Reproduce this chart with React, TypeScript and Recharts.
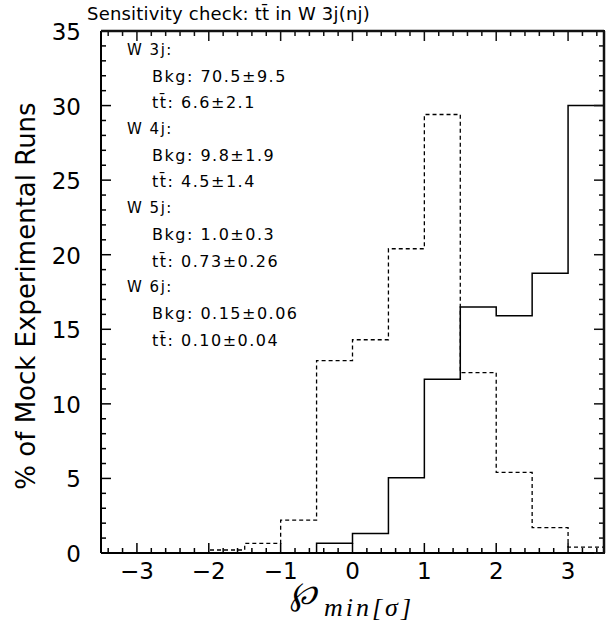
import React from 'react';
import { LineChart, Line, XAxis, YAxis, ReferenceLine } from 'recharts';

// bin edges of the histogram (width 0.5)
const binEdges = [-3.5, -3, -2.5, -2, -1.5, -1, -0.5, 0, 0.5, 1, 1.5, 2, 2.5, 3, 3.5];
// % of runs per bin
const ttbarRuns = [0, 0, 0, 0.2, 0.65, 2.2, 12.9, 14.3, 20.4, 29.4, 12.1, 5.4, 1.7, 0.4];
const bkgRuns = [0, 0, 0, 0, 0, 0, 0.65, 1.3, 5.05, 11.65, 16.5, 15.9, 18.75, 30.0];

const xMajor = [-3, -2, -1, 0, 1, 2, 3];
const yMajor = [0, 5, 10, 15, 20, 25, 30, 35];
const xTicks = Array.from({ length: 35 }, (_, i) => Math.round((-3.4 + i * 0.2) * 10) / 10);
const yTicks = Array.from({ length: 36 }, (_, i) => i);

const jetLabels = ['W 3j:', 'W 4j:', 'W 5j:', 'W 6j:'];
const bkgYields = ['70.5±9.5', '9.8±1.9', '1.0±0.3', '0.15±0.06'];
const ttYields = ['6.6±2.1', '4.5±1.4', '0.73±0.26', '0.10±0.04'];

const data = binEdges.map((x, i) => ({
  x,
  tt: ttbarRuns[Math.min(i, ttbarRuns.length - 1)],
  bkg: bkgRuns[Math.min(i, bkgRuns.length - 1)],
}));

const FONT = '"DejaVu Sans", sans-serif';
const INK = '#111';
const fmt = (v: number) => (v < 0 ? `\u2212${-v}` : `${v}`);

// plot frame edges (follow from the chart margins below)
const PLOT_TOP = 31;
const PLOT_RIGHT = 604;
const PLOT_LEFT = 101;
const PLOT_BOTTOM = 553;

// bottom ticks also mirror onto the top edge
const BottomTick = (props: any) => {
  const { x, y, payload } = props;
  const len = xMajor.includes(payload.value) ? 10 : 5;
  return (
    <g>
      <line x1={x} x2={x} y1={y} y2={y - len} stroke="#000" strokeWidth={1.5} />
      <line x1={x} x2={x} y1={PLOT_TOP + 1} y2={PLOT_TOP + len} stroke={INK} strokeWidth={1.5} />
      {len === 10 && (
        <text x={x} y={y + 26} textAnchor="middle" fontSize={23} fontFamily={FONT} fill="#000">
          {fmt(payload.value)}
        </text>
      )}
    </g>
  );
};

// left ticks also mirror onto the right edge
const LeftTick = (props: any) => {
  const { x, y, payload } = props;
  const len = yMajor.includes(payload.value) ? 10 : 5;
  return (
    <g>
      <line x1={x} x2={x + len} y1={y} y2={y} stroke="#000" strokeWidth={1.5} />
      <line x1={PLOT_RIGHT - 1} x2={PLOT_RIGHT - len} y1={y} y2={y} stroke={INK} strokeWidth={1.5} />
      {len === 10 && (
        <text x={x - 20} y={y + 9} textAnchor="end" fontSize={23} fontFamily={FONT} fill="#000">
          {payload.value}
        </text>
      )}
    </g>
  );
};

// html text placed by its baseline (line-height = font size)
const Txt = ({ x, base, size, children, style }: any) => (
  <div
    style={{
      position: 'absolute',
      left: x,
      top: base - 0.846 * size,
      fontFamily: FONT,
      fontSize: size,
      lineHeight: `${size}px`,
      whiteSpace: 'nowrap',
      color: '#000',
      ...style,
    }}
  >
    {children}
  </div>
);

const axisLine = { stroke: '#000', strokeWidth: 2 };
const rowStep = 26.4;

export default function App() {
  return (
    <div style={{ position: 'absolute', left: 0, top: 0, width: 614, height: 624, background: '#fff' }}>
      <Txt x={87} base={20} size={18} style={{ letterSpacing: 0.2 }}>
        Sensitivity check: tt̄ in W 3j(nj)
      </Txt>

      {jetLabels.map((lab, i) => {
        const y0 = 50 + i * 3 * rowStep;
        return (
          <React.Fragment key={lab}>
            <Txt x={127} base={y0 + 5.5} size={15} style={{ letterSpacing: 1.5 }}>{lab}</Txt>
            <Txt x={152} base={y0 + rowStep + 6} size={16} style={{ letterSpacing: 1.5 }}>Bkg: {bkgYields[i]}</Txt>
            <Txt x={152} base={y0 + 2 * rowStep + 6} size={16} style={{ letterSpacing: 1.5 }}>tt̄: {ttYields[i]}</Txt>
          </React.Fragment>
        );
      })}

      <div
        style={{
          position: 'absolute',
          left: 26,
          top: 296,
          transform: 'translate(-50%, -50%) rotate(-90deg)',
          fontFamily: FONT,
          fontSize: 26,
          lineHeight: '26px',
          whiteSpace: 'nowrap',
        }}
      >
        % of Mock Experimental Runs
      </div>

      <Txt x={290} base={604} size={32} style={{ fontFamily: '"DejaVu Serif", serif', fontStyle: 'italic' }}>
        ℘
      </Txt>
      <Txt
        x={324}
        base={617}
        size={26}
        style={{ fontFamily: '"Liberation Serif", serif', fontStyle: 'italic', letterSpacing: 3, top: 617 - 0.837 * 26 }}
      >
        min[σ]
      </Txt>

      <div style={{ position: 'absolute', left: 0, top: 0 }}>
        <LineChart width={614} height={624} data={data} margin={{ top: PLOT_TOP, right: 614 - PLOT_RIGHT, bottom: 0, left: 0 }}>
          <XAxis
            dataKey="x"
            type="number"
            domain={[-3.5, 3.5]}
            ticks={xTicks}
            interval={0}
            tick={<BottomTick />}
            tickLine={false}
            tickSize={0}
            tickMargin={0}
            height={71}
            axisLine={axisLine}
            allowDataOverflow
          />
          <YAxis
            type="number"
            domain={[0, 35]}
            ticks={yTicks}
            interval={0}
            tick={<LeftTick />}
            tickLine={false}
            tickSize={0}
            tickMargin={0}
            width={101}
            axisLine={axisLine}
            allowDataOverflow
          />
          <ReferenceLine y={35} stroke={INK} strokeWidth={2.5} />
          <ReferenceLine x={3.5} stroke={INK} strokeWidth={2.5} />
          <Line
            type="stepAfter"
            dataKey="tt"
            stroke="#000"
            strokeWidth={1.3}
            strokeDasharray="4 3"
            dot={false}
            isAnimationActive={false}
          />
          <Line
            type="stepAfter"
            dataKey="bkg"
            stroke="#000"
            strokeWidth={1.5}
            dot={false}
            isAnimationActive={false}
          />
        </LineChart>
      </div>

      {/* top and right edges of the plot frame */}
      <div
        style={{
          position: 'absolute',
          left: PLOT_LEFT,
          top: PLOT_TOP - 1,
          width: PLOT_RIGHT - PLOT_LEFT + 1,
          height: PLOT_BOTTOM - PLOT_TOP + 2,
          boxSizing: 'border-box',
          borderTop: `2px solid ${INK}`,
          borderRight: `2px solid ${INK}`,
          pointerEvents: 'none',
        }}
      />
    </div>
  );
}
